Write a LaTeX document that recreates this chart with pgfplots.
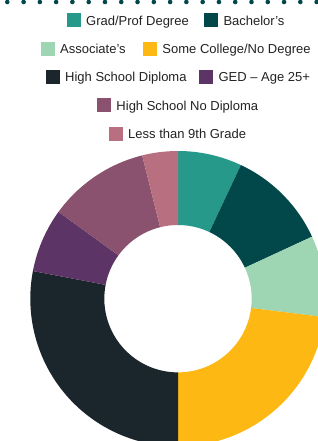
\documentclass[border=0pt]{standalone}
\usepackage{pgfplots}
\pgfplotsset{compat=1.18}
\usepackage{pgfplotstable}
\usepackage{fontspec}
\setmainfont{Liberation Sans}
\definecolor{cGrad}{HTML}{26998A}
\definecolor{cBach}{HTML}{02474A}
\definecolor{cAssoc}{HTML}{9ED5B3}
\definecolor{cSome}{HTML}{FDB813}
\definecolor{cHSD}{HTML}{1A262C}
\definecolor{cGED}{HTML}{5C3566}
\definecolor{cHSND}{HTML}{8A526F}
\definecolor{cLess}{HTML}{B87080}
\definecolor{txt}{HTML}{222222}

\pgfplotstableread{
value color
7.0 cGrad
11.1 cBach
8.9 cAssoc
23.0 cSome
28.0 cHSD
7.0 cGED
11.1 cHSND
3.9 cLess
}\piedata

\newcommand\legitem[4]{%
  \fill[#3] ({#1*1bp}, {(441-#2-7)*1bp}) rectangle ++(14bp,14bp);
  \node[anchor=base west, inner sep=0pt, text=txt, font=\fontsize{13bp}{15bp}\selectfont]
    at ({(#1+19)*1bp}, {(441-#2-4.9)*1bp}) {#4};
}

\begin{document}
\begin{tikzpicture}
\useasboundingbox (0,0) rectangle (318bp,441bp);
\begin{axis}[at={(0,0)}, anchor=south west, x=1bp, y=1bp,
  xmin=0, xmax=318, ymin=0, ymax=441, hide axis, clip=false]
\def\cum{0}
\pgfplotsforeachungrouped \i in {0,...,7}{%
  \pgfplotstablegetelem{\i}{value}\of\piedata \let\sval\pgfplotsretval
  \pgfplotstablegetelem{\i}{color}\of\piedata \let\scol\pgfplotsretval
  \pgfmathsetmacro\sa{90-3.6*\cum}%
  \pgfmathsetmacro\sb{90-3.6*(\cum+\sval)}%
  \pgfmathsetmacro\cum{\cum+\sval}%
  \edef\temp{\noexpand\fill[\scol] (axis cs:178,142.3) ++(\sa:147.7bp)
    arc[start angle=\sa, end angle=\sb, radius=147.7bp]
    -- ([shift={(\sb:73.7bp)}]axis cs:178,142.3)
    arc[start angle=\sb, end angle=\sa, radius=73.7bp] -- cycle;}%
  \temp
}
\end{axis}
\foreach \k in {0,...,19} \fill[cBach] ({(7.3+\k*16.28)*1bp}, 439bp) circle[radius=2.3bp];
\legitem{67}{20.3}{cGrad}{Grad/Prof Degree}
\legitem{204.3}{20.3}{cBach}{Bachelor’s}
\legitem{41}{48.7}{cAssoc}{Associate’s}
\legitem{143.3}{48.7}{cSome}{Some College/No Degree}
\legitem{46}{77}{cHSD}{High School Diploma}
\legitem{199.3}{77}{cGED}{GED – Age 25+}
\legitem{97.3}{105.3}{cHSND}{High School No Diploma}
\legitem{109}{133.7}{cLess}{Less than 9th Grade}
\end{tikzpicture}
\end{document}
